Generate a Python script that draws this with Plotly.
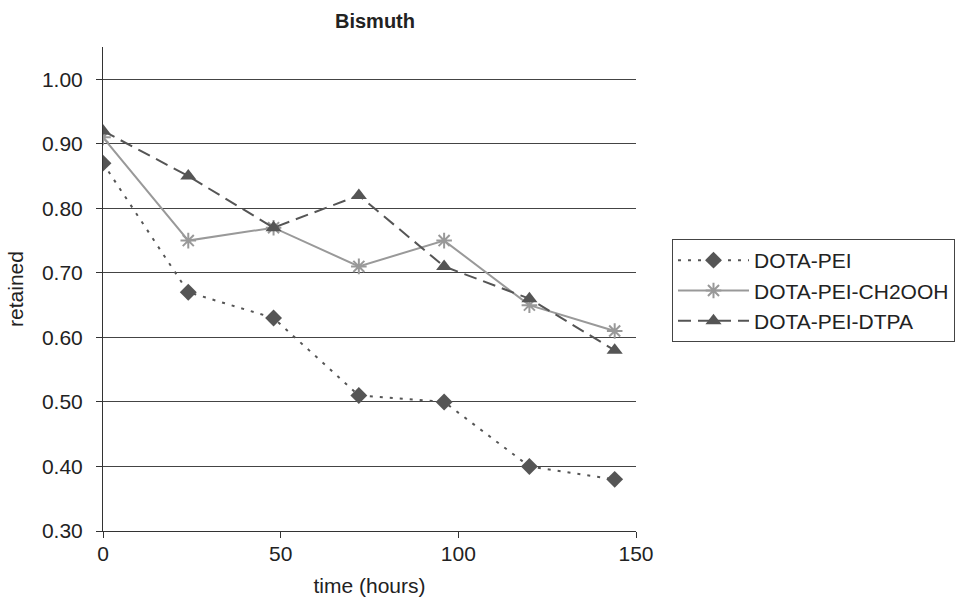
import plotly.graph_objects as go

hours = [0, 24, 48, 72, 96, 120, 144]
dota_pei = [0.87, 0.67, 0.63, 0.51, 0.50, 0.40, 0.38]
dota_pei_ch2ooh = [0.91, 0.75, 0.77, 0.71, 0.75, 0.65, 0.61]
dota_pei_dtpa = [0.92, 0.85, 0.77, 0.82, 0.71, 0.66, 0.58]

x_ticks = [0, 50, 100, 150]
y_ticks = [0.30, 0.40, 0.50, 0.60, 0.70, 0.80, 0.90, 1.00]

FONT = "Liberation Sans, Arial, sans-serif"

fig = go.Figure()
fig.add_trace(go.Scatter(
    x=hours, y=dota_pei, name="DOTA-PEI", mode="lines+markers",
    line=dict(color="#555555", width=2, dash="3px,7px"),
    marker=dict(symbol="diamond", size=13, color="#555555"),
))
fig.add_trace(go.Scatter(
    x=hours, y=dota_pei_ch2ooh, name="DOTA-PEI-CH2OOH", mode="lines+markers",
    line=dict(color="#999999", width=2),
    marker=dict(symbol="asterisk-open", size=13, color="#999999",
                line=dict(color="#999999", width=2)),
))
fig.add_trace(go.Scatter(
    x=hours, y=dota_pei_dtpa, name="DOTA-PEI-DTPA", mode="lines+markers",
    line=dict(color="#555555", width=2, dash="13px,7px"),
    marker=dict(symbol="triangle-up", size=14, color="#555555"),
))

fig.update_layout(
    width=955, height=598,
    margin=dict(l=103, r=319, t=47, b=67, autoexpand=False),
    paper_bgcolor="white", plot_bgcolor="white",
    font=dict(family=FONT, size=21, color="#222222"),
    title=dict(text="<b>Bismuth</b>", x=375 / 955, xanchor="center",
               y=1 - 21 / 598, yanchor="middle",
               font=dict(family=FONT, size=20, color="#222222")),
    showlegend=True,
    legend=dict(
        x=(672 - 103) / 533, y=(531 - 239) / 484, xanchor="left", yanchor="top",
        bordercolor="#444444", borderwidth=1, bgcolor="white",
        font=dict(family=FONT, size=21, color="#222222"),
        itemwidth=71, tracegroupgap=0,
    ),
    xaxis=dict(
        range=[0, 150], tickvals=x_ticks, ticktext=[str(v) for v in x_ticks],
        showgrid=False, zeroline=False, showline=True, linecolor="#333333",
        linewidth=1, ticks="outside", ticklen=6, tickcolor="#333333",
        ticklabelstandoff=-2, automargin=False,
        title=dict(text="time (hours)", font=dict(size=21), standoff=14),
    ),
    yaxis=dict(
        range=[0.30, 1.05], tickvals=y_ticks,
        ticktext=[f"{v:.2f}" for v in y_ticks],
        showgrid=True, gridcolor="#444444", gridwidth=1,
        zeroline=False, showline=True, linecolor="#333333", linewidth=1,
        ticks="outside", ticklen=6, tickcolor="#333333",
        ticklabelstandoff=9, automargin=False,
        title=dict(text="retained", font=dict(size=21), standoff=12),
    ),
)

fig.write_html("out.html")
